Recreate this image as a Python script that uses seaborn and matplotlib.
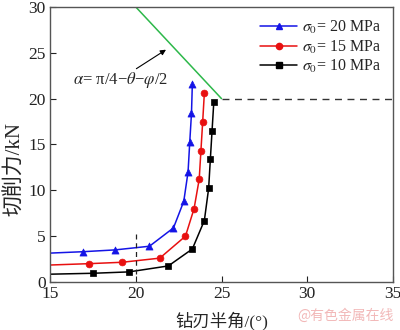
import numpy as np
import pandas as pd
import matplotlib
matplotlib.use("Agg")
import matplotlib.pyplot as plt
from matplotlib.lines import Line2D
import seaborn as sns

# ---- data ----
x20 = [16.9, 18.8, 20.8, 22.2, 22.8, 23.05, 23.15, 23.25, 23.3]
y20 = [3.3, 3.5, 3.9, 5.9, 8.8, 12.0, 15.3, 18.4, 21.6]
x15 = [17.3, 19.2, 21.4, 22.9, 23.4, 23.7, 23.8, 23.9, 24.0]
y15 = [2.0, 2.15, 2.6, 5.0, 8.0, 11.2, 14.3, 17.4, 20.6]
x10 = [17.5, 19.6, 21.9, 23.3, 24.0, 24.25, 24.35, 24.45, 24.55]
y10 = [0.95, 1.1, 1.75, 3.6, 6.7, 10.2, 13.4, 16.5, 19.6]
start_x = 15.0
start_y = {"20": 3.15, "15": 1.85, "10": 0.85}
labels = [r"$\sigma_0$= 20 MPa", r"$\sigma_0$= 15 MPa", r"$\sigma_0$= 10 MPa"]
limit_x = [20, 25]
limit_y = [30, 20]
plateau_x = [25, 35]
plateau_y = [20, 20]
vline_x = 20
vline_y = [0.9, 5.4]
xticks = [15, 20, 25, 30, 35]
yticks = [0, 5, 10, 15, 20, 25, 30]

sns.set_theme(style="ticks")
plt.rcParams["font.family"] = ["Liberation Serif", "Noto Sans CJK SC"]
plt.rcParams["mathtext.fontset"] = "stix"
plt.rcParams["axes.unicode_minus"] = False

fig = plt.figure(figsize=(4.0, 3.3), dpi=100)
ax = fig.add_axes([0.125, 0.1455, 0.8575, 0.8335])

series = [
    ("20", x20, y20, "#1414e6", "^", 26),
    ("15", x15, y15, "#e81010", "o", 24),
    ("10", x10, y10, "#000000", "s", 18),
]
handles = []
for (key, xs, ys, col, mk, ms), lab in zip(series, labels):
    line_df = pd.DataFrame({"x": [start_x] + xs, "y": [start_y[key]] + ys})
    sns.lineplot(data=line_df, x="x", y="y", sort=False, color=col, lw=1.1, ax=ax,
                 estimator=None)
    pt_df = pd.DataFrame({"x": xs, "y": ys})
    sns.scatterplot(data=pt_df, x="x", y="y", marker=mk, color=col, s=ms,
                    edgecolor=col, linewidth=0.5, ax=ax, zorder=3)
    handles.append(Line2D([0], [0], color=col, marker=mk, lw=1.1, markersize=4.5, label=lab))

sns.lineplot(x=limit_x, y=limit_y, color="#2db84a", lw=1.1, ax=ax)
sns.lineplot(x=plateau_x, y=plateau_y, color="#333333", lw=1.0, ax=ax, linestyle=(0, (5, 4)))
ax.plot([vline_x, vline_x], vline_y, color="#222222", lw=0.9, linestyle=(0, (4, 3)))

ax.annotate("", xy=(21.9, 25.5), xytext=(19.9, 23.1),
            arrowprops=dict(arrowstyle="-|>", color="black", lw=0.8, mutation_scale=8))
ax.text(19.1, 22.0, r"$\alpha$= π/4−$\theta$−$\varphi$/2", fontsize=12,
        ha="center", va="center", family=["Liberation Serif", "DejaVu Sans"])

ax.legend(handles=handles, loc="upper right", frameon=False, fontsize=11.5,
          handlelength=2.3, handletextpad=0.3, labelspacing=0.15,
          borderaxespad=0.35)

ax.set_xlim(15, 35)
ax.set_ylim(0, 30)
ax.set_xticks(xticks)
ax.set_yticks(yticks)
ax.tick_params(direction="in", length=4, width=0.8, labelsize=12.5, colors="#222222",
               pad=3)
for sp in ax.spines.values():
    sp.set_color("#555555")
    sp.set_linewidth(1.0)
ax.set_xlabel("钻刃半角/(°)", fontsize=12.5, va="center")
ax.xaxis.set_label_coords(0.5, -0.143)
ax.set_ylabel("切削力/kN", fontsize=15, va="center")
ax.yaxis.set_label_coords(-0.1, 0.41)

fig.text(0.985, 0.022, "@有色金属在线", color="#f2b8b8", fontsize=10,
         ha="right", va="bottom", family=["Noto Sans CJK SC"])

fig.savefig("out.png", dpi=100)
